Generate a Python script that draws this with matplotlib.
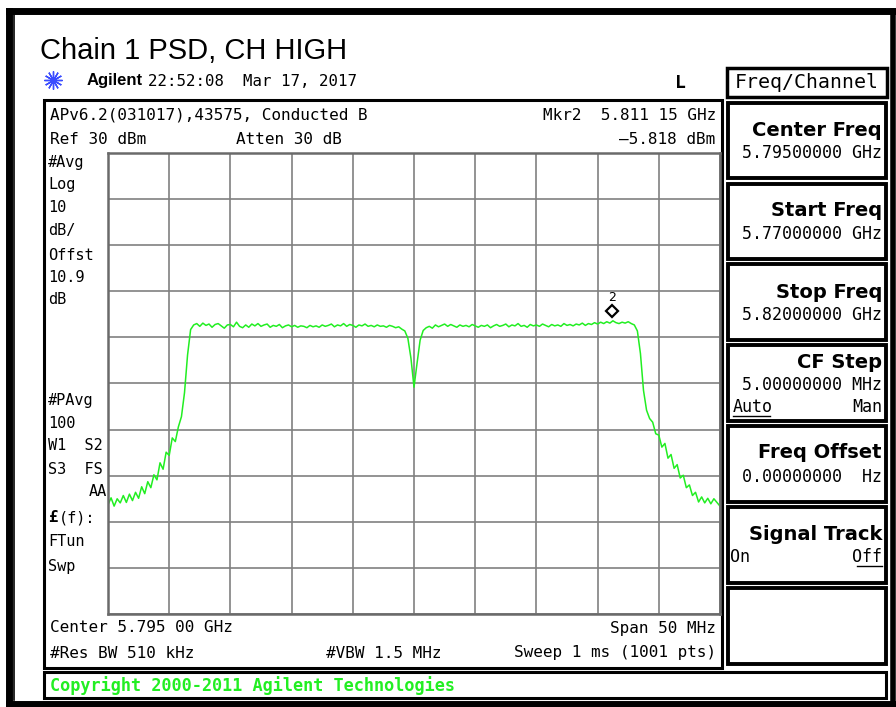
import matplotlib
matplotlib.use("Agg")
import matplotlib.pyplot as plt
import numpy as np
from matplotlib.patches import Rectangle
from matplotlib.transforms import offset_copy

# sweep settings
start_mhz = 5770.0
stop_mhz = 5820.0
ref_dbm = 30
db_per_div = 10

# trace level (dBm), one value every 0.25 MHz from start to stop
left_skirt = [-46.3, -44.8, -46.6, -45.0, -45.9, -44.3, -45.8, -44.0, -45.4, -43.6,
              -44.9, -42.4, -43.9, -41.3, -42.6, -39.8, -40.9, -37.2, -38.6, -34.9,
              -35.6, -31.8, -32.6, -29.4, -27.2, -22.0, -13.8, -8.3, -7.3]
plateau_low = [-7.0, -7.6, -6.9, -7.4, -7.1, -7.8, -7.2, -7.0, -7.5, -8.0,
               -7.3, -7.2, -7.7, -6.7, -7.6, -7.9, -7.3, -7.8, -7.1, -7.5,
               -7.0, -7.6, -7.3, -7.1, -7.8, -7.4, -7.6, -7.2, -7.9, -7.5,
               -7.3, -7.7, -7.4, -7.8, -7.5, -7.6, -7.9, -7.4, -7.7, -7.5,
               -7.8, -7.3, -7.6, -7.4, -7.1, -7.7, -7.3, -7.5, -7.0, -7.6,
               -7.2, -7.4, -7.8, -7.3, -7.5, -7.1, -7.6, -7.4, -7.7, -7.3,
               -7.6, -7.5, -7.8, -7.4, -7.6, -7.9, -7.7, -8.2, -8.6]
notch = [-10.2, -14.5, -20.8, -15.6, -10.6, -8.5, -7.9]
plateau_high = [-7.6, -8.0, -7.3, -7.7, -7.4, -7.1, -7.6, -7.2, -7.5, -7.8,
                -7.3, -7.6, -7.4, -7.7, -7.2, -7.5, -7.8, -7.4, -7.6, -7.3,
                -7.9, -7.5, -7.2, -7.6, -7.4, -7.1, -7.7, -7.3, -7.5, -7.0,
                -7.6, -7.4, -7.8, -7.2, -7.5, -7.3, -7.6, -7.1, -7.4, -7.7,
                -7.2, -7.5, -7.3, -7.6, -7.0, -7.4, -7.2, -7.5, -7.1, -7.3,
                -6.9, -7.4, -7.0, -7.2, -6.8, -7.1, -6.7, -7.0, -6.6, -6.9,
                -6.4, -6.8, -7.0, -6.7, -6.9, -6.6, -7.0, -7.3]
right_skirt = [-8.6, -13.5, -21.5, -25.8, -27.6, -28.4, -30.9, -31.2, -33.8, -33.0,
               -36.2, -35.4, -38.4, -37.6, -40.5, -39.9, -42.6, -42.0, -44.3, -43.6,
               -45.7, -44.6, -45.9, -44.9, -46.1, -45.0, -45.8, -46.6]
level_dbm = left_skirt + plateau_low + notch + plateau_high + right_skirt
freq_mhz = np.linspace(start_mhz, stop_mhz, len(level_dbm))

mkr_freq = 5811.15
mkr_level = -5.818

W, H = 896, 707
mono = "DejaVu Sans Mono"
fig = plt.figure(figsize=(W / 100, H / 100), dpi=100)

# background axes in pixel units for the instrument frame
bg = fig.add_axes([0, 0, 1, 1])
bg.set_xlim(0, W)
bg.set_ylim(H, 0)
bg.axis("off")


def box(x0, y0, x1, y1, lw=2.0, color="black"):
    bg.add_patch(Rectangle((x0, y0), x1 - x0, y1 - y0, fill=False, lw=lw, ec=color))


def txt(x, y, s, size=11.3, ha="left", weight="normal", color="black", family=mono):
    bg.text(x, y, s, fontsize=size, ha=ha, va="center", fontweight=weight,
            color=color, family=family)


# outer frame
bg.plot([9, 9], [11, H], color="black", lw=5)
bg.plot([9, W], [11, 11], color="black", lw=5)
bg.plot([9, W], [704, 704], color="black", lw=5)
bg.plot([893, 893], [11, H], color="black", lw=4)
bg.plot([14, 14], [15, 700], color="black", lw=1.2)

# title
bg.text(40, 51, "Chain 1 PSD, CH HIGH", fontsize=21, family="Liberation Sans",
        ha="left", va="center")

# header line
bg.plot(53, 80, marker=(12, 2, 0), ms=13, color="#3a4cff", mew=1.0)
bg.text(87, 81, "Agilent", fontsize=12, fontweight="bold", family="Liberation Sans",
        ha="left", va="center")
txt(148, 81, "22:52:08  Mar 17, 2017", size=11.3)
txt(680, 83, "L", size=13, weight="bold", ha="center")

# screen box
box(44, 100, 722, 668, lw=2.2)
txt(50, 115, "APv6.2(031017),43575, Conducted B", size=11.5)
txt(716, 115, "Mkr2  5.811 15 GHz", ha="right", size=11.5)
txt(50, 139, "Ref 30 dBm", size=11.5)
txt(236, 139, "Atten 30 dB", size=11.5)
txt(715, 139, "\u20135.818 dBm", ha="right", size=11.5)

left_col = [("#Avg", 162), ("Log", 185), ("10", 208), ("dB/", 231), ("Offst", 255),
            ("10.9", 278), ("dB", 300), ("#PAvg", 400), ("100", 423),
            ("W1  S2", 446), ("S3  FS", 469), ("FTun", 542), ("Swp", 566)]
for s, y in left_col:
    txt(48, y, s, size=11.0)
txt(107, 492, "AA", size=11.0, ha="right")
txt(48, 518, "\u00a3", size=11.5, weight="bold")
txt(59, 518, "(f):", size=11.0)

txt(50, 628, "Center 5.795 00 GHz", size=11.5)
txt(716, 628, "Span 50 MHz", ha="right", size=11.5)
txt(50, 653, "#Res BW 510 kHz", size=11.5)
txt(326, 653, "#VBW 1.5 MHz", size=11.5)
txt(716, 653, "Sweep 1 ms (1001 pts)", ha="right", size=11.5)

# copyright bar
box(44, 672, 886, 698, lw=2.2)
txt(50, 686, "Copyright 2000-2011 Agilent Technologies", size=12.2, weight="bold",
    color="#22ee22")

# softkey panel: (title, value, box top, box bottom, title y, value y)
box(727, 68, 887, 97, lw=2.5)
txt(807, 83, "Freq/Channel", size=14.3, ha="center")
keys = [("Center Freq", "5.79500000 GHz", 103, 178, 130, 153),
        ("Start Freq", "5.77000000 GHz", 184, 259, 211, 234),
        ("Stop Freq", "5.82000000 GHz", 264, 340, 292, 315),
        ("CF Step", "5.00000000 MHz", 345, 421, 362, 385),
        ("Freq Offset", "0.00000000  Hz", 426, 502, 453, 477),
        ("Signal Track", "", 507, 583, 534, 0),
        ("", "", 588, 664, 0, 0)]
for title, value, y0, y1, ty, vy in keys:
    box(728, y0, 886, y1, lw=2.8)
    if title:
        txt(882, ty, title, size=14, ha="right", weight="bold", family="DejaVu Sans")
    if value:
        txt(882, vy, value, size=12.0, ha="right")
txt(733, 407, "Auto", size=12.0)
bg.plot([733, 770], [416, 416], color="black", lw=1)
txt(882, 407, "Man", size=12.0, ha="right")
txt(730, 557, "On", size=12.0)
txt(882, 557, "Off", size=12.0, ha="right")
bg.plot([857, 882], [566, 566], color="black", lw=1)

# trace graticule
ax = fig.add_axes([108 / W, (H - 614) / H, 612 / W, 461 / H])
ax.set_xlim(start_mhz, stop_mhz)
ax.set_ylim(ref_dbm - 10 * db_per_div, ref_dbm)
ax.set_xticks(np.linspace(start_mhz, stop_mhz, 11))
ax.set_yticks(np.linspace(ref_dbm - 10 * db_per_div, ref_dbm, 11))
ax.tick_params(length=0, labelbottom=False, labelleft=False)
ax.grid(True, color="#808080", lw=1.2)
for sp in ax.spines.values():
    sp.set_color("#6a6a6a")
    sp.set_linewidth(1.8)
ax.set_facecolor("white")

ax.plot(freq_mhz, level_dbm, color="#22ee22", lw=1.1)

# marker 2 drawn just above the trace point
mk_trans = offset_copy(ax.transData, fig=fig, x=0, y=7, units="dots")
ax.plot(mkr_freq, mkr_level, marker="D", ms=6.5, mfc="white", mec="black", mew=1.6,
        transform=mk_trans, clip_on=False)
num_trans = offset_copy(ax.transData, fig=fig, x=0, y=21, units="dots")
ax.text(mkr_freq, mkr_level, "2", transform=num_trans, ha="center", va="center",
        fontsize=9, family="DejaVu Sans")

fig.savefig("out.png", dpi=100)
